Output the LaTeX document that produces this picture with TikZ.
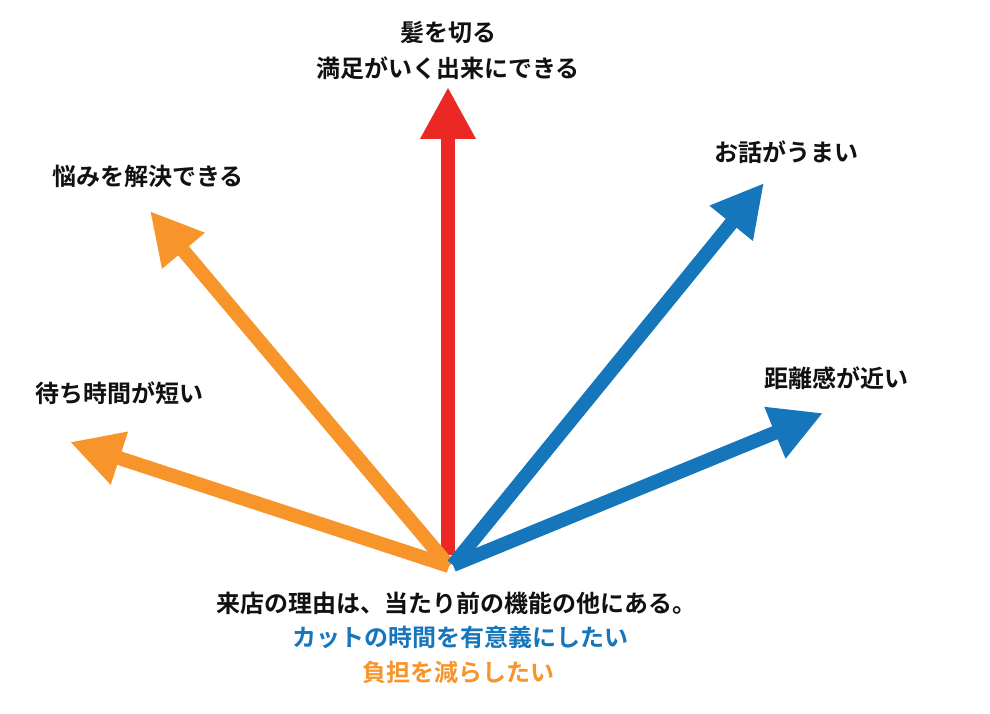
\documentclass[tikz,border=0pt]{standalone}
\usepackage{fontspec}
\newfontfamily\jp{Noto Sans CJK JP}[UprightFont=* Bold]
\usetikzlibrary{arrows.meta}
\definecolor{cred}{RGB}{236,40,36}
\definecolor{corange}{RGB}{247,148,42}
\definecolor{cblue}{RGB}{22,118,187}
\definecolor{ctext}{RGB}{17,17,17}
\tikzset{
  arr/.style={line width=14pt, -{Triangle[length=52pt 0 0, width=52pt 0 0]}},
  lbl/.style={inner sep=0pt, font=\jp\fontsize{24}{28}\selectfont, text=ctext, anchor=center},
}
\begin{document}
\begin{tikzpicture}[x=1pt,y=-1pt]
\useasboundingbox (0,0) rectangle (990,714);
\fill[white] (0,0) rectangle (990,714);
\coordinate (or) at (448,555);
\coordinate (oo) at (449,566);
\coordinate (ob) at (453,565);
\coordinate (tred) at (448,87);
\coordinate (tol) at (70,442);
\coordinate (tou) at (150,211);
\coordinate (tbu) at (764,183);
\coordinate (tbr) at (823,413);
\draw[arr, cred] (or) -- (tred);
\draw[arr, corange] (oo) -- (tol);
\draw[arr, corange] (oo) -- (tou);
\draw[arr, cblue] (ob) -- (tbu);
\draw[arr, cblue] (ob) -- (tbr);
\node[lbl] (l1) at (448,33) {髪を切る};
\node[lbl] (l2) at (448,68) {満足がいく出来にできる};
\node[lbl] (l3) at (148,176) {悩みを解決できる};
\node[lbl] (l4) at (786,152) {お話がうまい};
\node[lbl] (l5) at (119,393) {待ち時間が短い};
\node[lbl] (l6) at (836,378) {距離感が近い};
\node[lbl] (b1) at (456,603) {来店の理由は、当たり前の機能の他にある。};
\node[lbl, text=cblue] (b2) at (460,637) {カットの時間を有意義にしたい};
\node[lbl, text=corange] (b3) at (458,672) {負担を減らしたい};
\end{tikzpicture}
\end{document}
